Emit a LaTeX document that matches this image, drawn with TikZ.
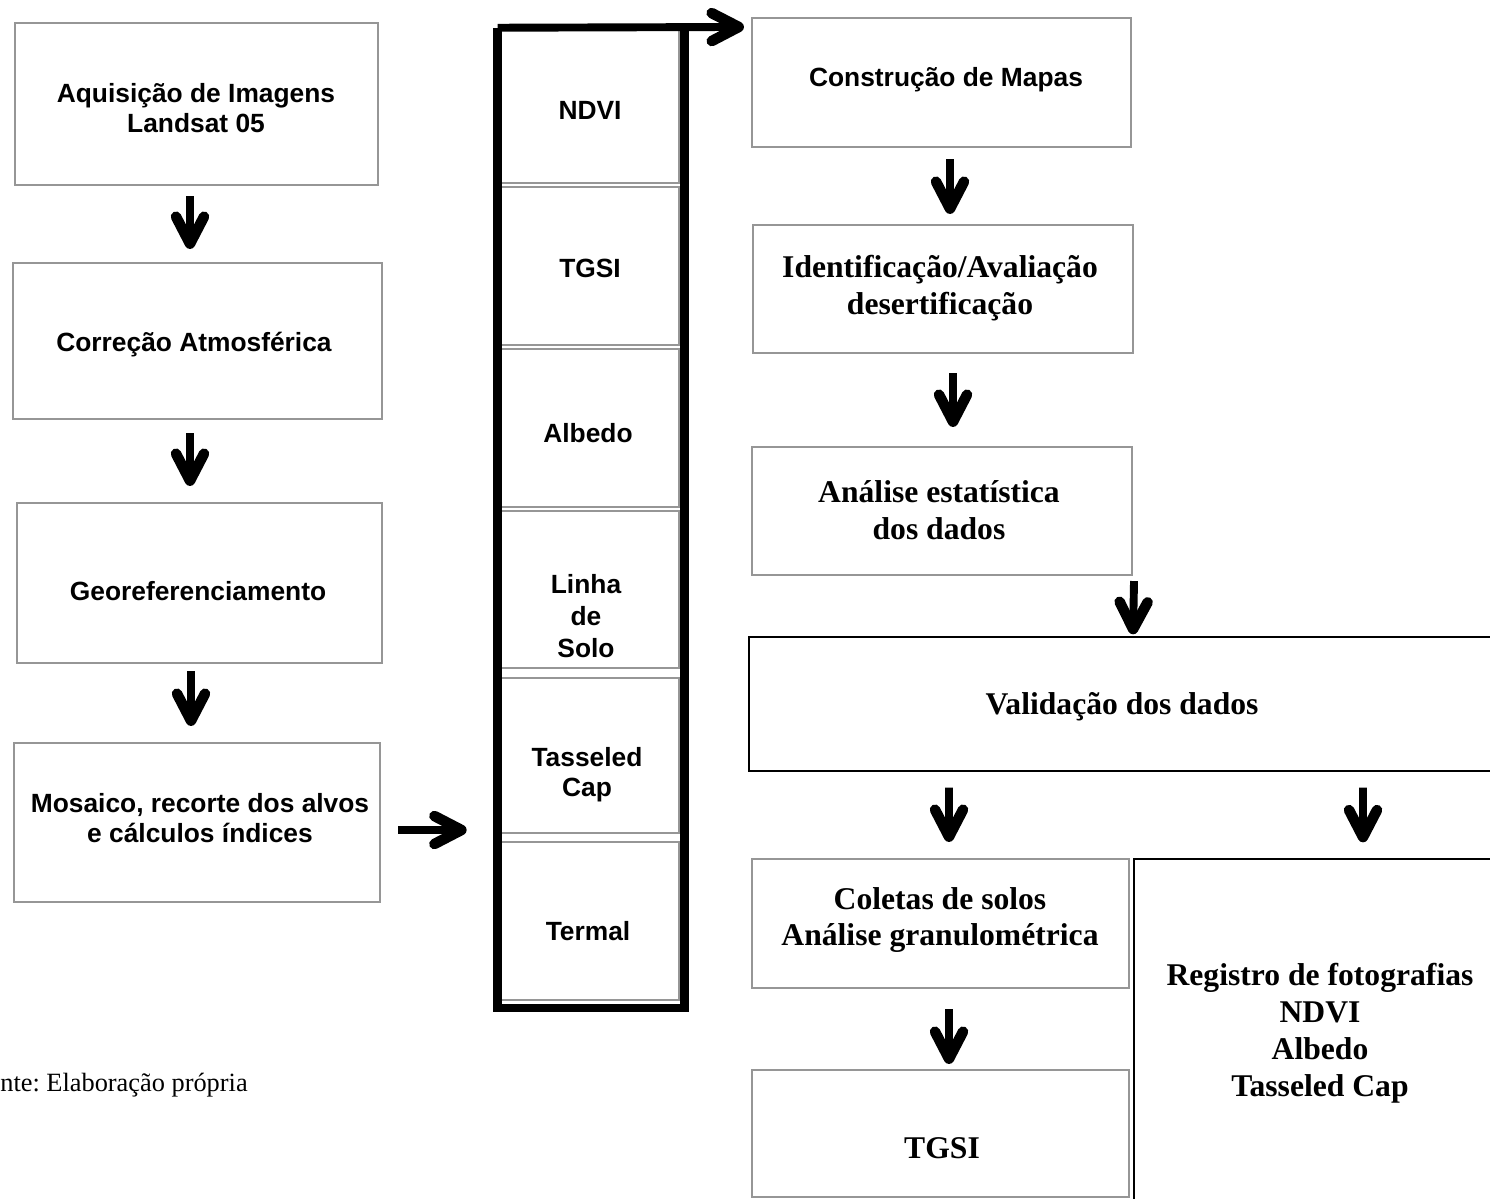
\documentclass[tikz,border=0pt]{standalone}
\usepackage{fontspec}
\setmainfont{Liberation Serif}
\setsansfont{Liberation Sans}
\usetikzlibrary{arrows.meta,calc}
\definecolor{boxgray}{RGB}{150,150,150}
\tikzset{
  gbox/.style={draw=boxgray, line width=1.2pt, rectangle, inner sep=0pt},
  kbox/.style={draw=black, line width=0.8pt, rectangle, inner sep=0pt},
  sanstxt/.style={font=\sffamily\bfseries\fontsize{15}{17}\selectfont, align=center, inner sep=0pt},
  seriftxt/.style={font=\rmfamily\bfseries\fontsize{18}{21}\selectfont, align=center, inner sep=0pt},
  arr/.style={line width=4.5pt, -{Straight Barb[length=0.54cm, width=0.56cm, line width'=6pt, round]}},
  framel/.style={line width=4.8pt, line join=miter}
}
\begin{document}
\frenchspacing
\begin{tikzpicture}[x=0.02cm,y=-0.02cm]
\clip (0,0) rectangle (1490,1199);
\fill[white] (0,0) rectangle (1490,1199);
% left column
\node[gbox, minimum width=7.26cm, minimum height=3.24cm] (b1) at (196.5,104) {};
\node[gbox, minimum width=7.38cm, minimum height=3.12cm] (b2) at (197.5,341) {};
\node[gbox, minimum width=7.30cm, minimum height=3.20cm] (b3) at (199.5,583) {};
\node[gbox, minimum width=7.32cm, minimum height=3.18cm] (b4) at (197,822.5) {};
\node[sanstxt] (t1) at (196,108) {Aquisição de Imagens\\Landsat 05};
\node[sanstxt] (t2) at (194,345) {Correção Atmosférica};
\node[sanstxt] (t3) at (198,591) {Georeferenciamento};
\node[sanstxt] (t4) at (200,818) {Mosaico, recorte dos alvos\\e cálculos índices};
% middle column
\node[gbox, minimum width=3.56cm, minimum height=3.06cm] (c1) at (590,106.5) {};
\node[gbox, minimum width=3.56cm, minimum height=3.16cm] (c2) at (590,266) {};
\node[gbox, minimum width=3.56cm, minimum height=3.16cm] (c3) at (590,428) {};
\node[gbox, minimum width=3.56cm, minimum height=3.14cm] (c4) at (590,589.5) {};
\node[gbox, minimum width=3.56cm, minimum height=3.10cm] (c5) at (590,755.5) {};
\node[gbox, minimum width=3.56cm, minimum height=3.16cm] (c6) at (590,921) {};
\node[sanstxt] (u1) at (590,110) {NDVI};
\node[sanstxt] (u2) at (590,268) {TGSI};
\node[sanstxt] (u3) at (588,433) {Albedo};
\node[sanstxt, font=\sffamily\bfseries\fontsize{15}{18}\selectfont] (u4) at (586,616) {Linha\\de\\Solo};
\node[sanstxt] (u5) at (587,775) {Tasseled\\Cap};
\node[sanstxt] (u6) at (588,931) {Termal};
\node[minimum width=3.72cm, minimum height=19.6cm, inner sep=0pt] (col) at (591,518) {};
\draw[framel] (col.north west) -- (col.south west) -- (col.south east) -- (col.north east);
% right column
\node[gbox, minimum width=7.58cm, minimum height=2.58cm] (r1) at (941.5,82.5) {};
\node[gbox, minimum width=7.60cm, minimum height=2.56cm] (r2) at (943,289) {};
\node[gbox, minimum width=7.60cm, minimum height=2.56cm] (r3) at (942,511) {};
\node[kbox, minimum width=15.02cm, minimum height=2.68cm] (val) at (1124.5,704) {};
\node[gbox, minimum width=7.54cm, minimum height=2.58cm] (r5) at (940.5,923.5) {};
\node[gbox, minimum width=7.54cm, minimum height=2.54cm] (r6) at (940.5,1133.5) {};
\node[kbox, minimum width=7.32cm, minimum height=7.02cm] (reg) at (1317,1034.5) {};
\node[sanstxt] (v1) at (946,80) {Construção de Mapas};
\node[seriftxt] (v2) at (940,288) {Identificação/Avaliação\\desertificação};
\node[seriftxt] (v3) at (939,510) {Análise estatística\\dos dados};
\node[seriftxt] (v4) at (1122,707) {Validação dos dados};
\node[seriftxt] (v5) at (940,920) {Coletas de solos\\Análise granulométrica};
\node[seriftxt] (v6) at (942,1148) {TGSI};
\node[seriftxt] (v7) at (1320,1033) {Registro de fotografias\\NDVI\\Albedo\\Tasseled Cap};
\node[font=\rmfamily\fontsize{15}{18}\selectfont, inner sep=0pt, anchor=west] (src) at (0,1085) {nte: Elaboração própria};
% arrows
\draw[arr] ($(b1.south)+(-6.5,10)$) -- ($(b2.north)+(-7.5,-13)$);
\draw[arr] ($(b2.south)+(-7.5,13)$) -- ($(b3.north)+(-9.5,-16)$);
\draw[arr] ($(b3.south)+(-8.5,7)$) -- ($(b4.north)+(-6,-16)$);
\draw[arr] ($(b4.east)+(17,7.5)$) -- ($(col.west|-b4.east)+(-31,7.5)$);
\draw[arr] (col.north west) -- ($(r1.north west)+(-7,10)$);
\draw[arr] ($(r1.south)+(8.5,11)$) -- ($(r2.north)+(7,-10)$);
\draw[arr] ($(r2.south)+(10,19)$) -- ($(r3.north)+(11,-19)$);
\draw[arr] ($(r3.south east)+(1,5)$) -- ($(val.north)+(8.5,-2)$);
\draw[arr] ($(val.south)+(-175.5,16)$) -- ($(r5.north)+(8.5,-16)$);
\draw[arr] ($(val.south)+(238.5,16)$) -- ($(reg.north)+(46,-16)$);
\draw[arr] ($(r5.south)+(8.5,20)$) -- ($(r6.north)+(8.5,-5)$);
\end{tikzpicture}
\end{document}
